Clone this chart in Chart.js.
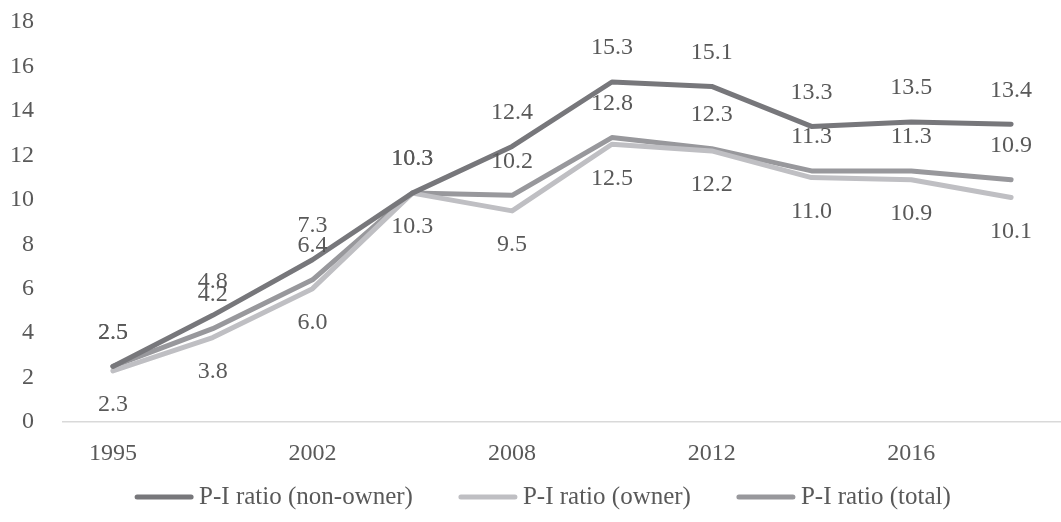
<!DOCTYPE html>
<html>
<head>
<meta charset="utf-8">
<script src="https://cdn.jsdelivr.net/npm/chart.js@4/dist/chart.umd.min.js"></script>
<style>
  html, body { margin: 0; padding: 0; background: #fff; }
  #wrap { width: 1061px; height: 522px; }
</style>
</head>
<body>
<div id="wrap"><canvas id="piChart"></canvas></div>
<script>
// Years on the x axis (only every other one is labelled in the original)
const years = ['1995', '1999', '2002', '2005', '2008', '2010', '2012', '2014', '2016', '2018'];

// Price-to-income ratios
const nonOwner = [2.5, 4.8, 7.3, 10.3, 12.4, 15.3, 15.1, 13.3, 13.5, 13.4];
const owner    = [2.3, 3.8, 6.0, 10.3, 9.5, 12.5, 12.2, 11.0, 10.9, 10.1];
const total    = [2.5, 4.2, 6.4, 10.3, 10.2, 12.8, 12.3, 11.3, 11.3, 10.9];

const yTicks = [0, 2, 4, 6, 8, 10, 12, 14, 16, 18];

const textColor = '#595959';
const fontFamily = '"Liberation Serif", "Times New Roman", serif';

// simple value labels, above or below each point
const valueLabels = {
    id: 'valueLabels',
    afterDatasetsDraw(chart) {
        const ctx = chart.ctx;
        ctx.save();
        ctx.font = '24px ' + fontFamily;
        ctx.fillStyle = textColor;
        ctx.textAlign = 'center';
        ctx.textBaseline = 'middle';
        chart.data.datasets.forEach((ds, i) => {
            const meta = chart.getDatasetMeta(i);
            meta.data.forEach((pt, j) => {
                const dy = ds.labelPos === 'below' ? 34 : -34;
                ctx.fillText(ds.data[j].toFixed(1), pt.x, pt.y + dy);
            });
        });
        ctx.restore();
    }
};

// legend drawn like the Excel one: long line swatch, text right after it
const lineLegend = {
    id: 'lineLegend',
    afterDraw(chart) {
        const ctx = chart.ctx;
        const y = 497;
        const swatch = 60, gap = 5, itemGap = 45;
        ctx.save();
        ctx.font = '25px ' + fontFamily;
        const items = chart.data.datasets.map(ds => ({
            ds: ds,
            w: swatch + gap + ctx.measureText(ds.label).width
        }));
        const totalW = items.reduce((s, it) => s + it.w, 0) + itemGap * (items.length - 1);
        let x = chart.width / 2 + 12 - totalW / 2;
        items.forEach(it => {
            ctx.strokeStyle = it.ds.borderColor;
            ctx.lineWidth = 5;
            ctx.lineCap = 'round';
            ctx.beginPath();
            ctx.moveTo(x + 3, y);
            ctx.lineTo(x + swatch - 3, y);
            ctx.stroke();
            ctx.fillStyle = textColor;
            ctx.textAlign = 'left';
            ctx.textBaseline = 'middle';
            ctx.fillText(it.ds.label, x + swatch + gap, y);
            x += it.w + itemGap;
        });
        ctx.restore();
    }
};

const ctx = document.getElementById('piChart').getContext('2d');
const piChart = new Chart(ctx, {
    type: 'line',
    data: {
        labels: years,
        datasets: [
            {
                label: 'P-I ratio (non-owner)',
                data: nonOwner,
                borderColor: '#77777b',
                backgroundColor: '#77777b',
                labelPos: 'above'
            },
            {
                label: 'P-I ratio (owner)',
                data: owner,
                borderColor: '#bfbfc3',
                backgroundColor: '#bfbfc3',
                labelPos: 'below'
            },
            {
                label: 'P-I ratio (total)',
                data: total,
                borderColor: '#98989c',
                backgroundColor: '#98989c',
                labelPos: 'above'
            }
        ]
    },
    options: {
        responsive: true,
        maintainAspectRatio: false,
        animation: false,
        layout: { padding: { top: 0, left: 10, right: 0, bottom: 54 } },
        elements: {
            line: { borderWidth: 5, tension: 0, borderCapStyle: 'round', borderJoinStyle: 'round' },
            point: { radius: 0, hoverRadius: 0 }
        },
        plugins: {
            tooltip: { enabled: false },
            legend: { display: false }
        },
        scales: {
            x: {
                offset: true,
                grid: { display: false, drawTicks: false, offset: true },
                border: { color: '#d9d9d9', width: 1.5 },
                ticks: {
                    color: textColor,
                    font: { family: fontFamily, size: 24 },
                    padding: 17,
                    autoSkip: false,
                    maxRotation: 0,
                    callback: function (val, idx) {
                        return idx % 2 === 0 ? this.getLabelForValue(val) : '';
                    }
                },
                afterFit: scale => { scale.height = 46; }
            },
            y: {
                min: 0,
                max: 18,
                afterBuildTicks: axis => { axis.ticks = yTicks.map(v => ({ value: v })); },
                grid: { display: false, drawTicks: false },
                border: { display: false },
                ticks: {
                    color: textColor,
                    font: { family: fontFamily, size: 24 },
                    padding: 29
                },
                afterFit: scale => {
                    scale.width = 53;
                    scale.paddingTop = 22;
                    scale.paddingBottom = 0;
                }
            }
        }
    },
    plugins: [valueLabels, lineLegend]
});
</script>
</body>
</html>
